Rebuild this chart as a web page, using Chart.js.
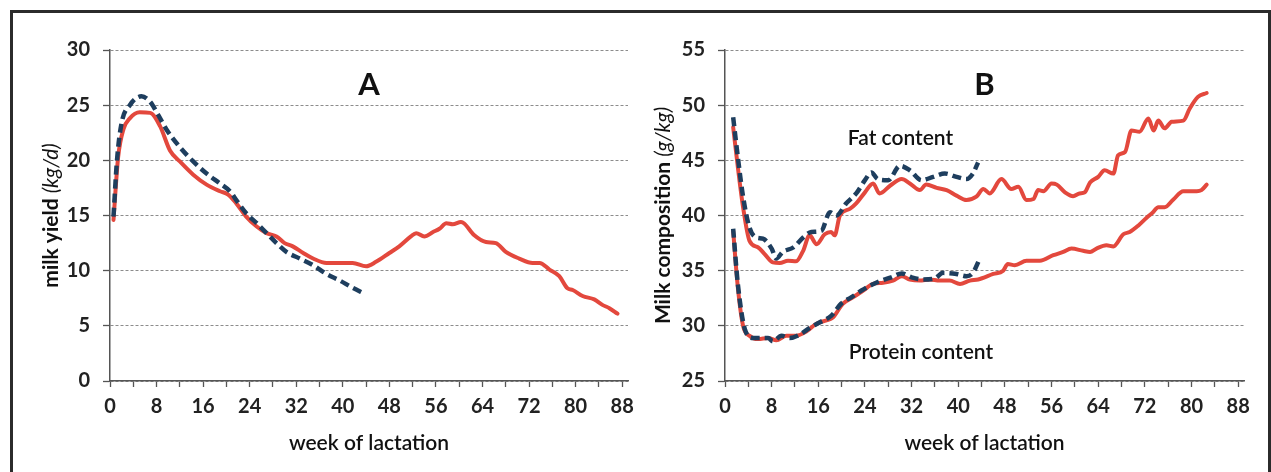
<!DOCTYPE html>
<html>
<head>
<meta charset="utf-8">
<script src="https://cdn.jsdelivr.net/npm/chart.js@4.4.0/dist/chart.umd.min.js"></script>
<style>
  html, body { margin: 0; padding: 0; background: #fff; overflow: hidden; }
  body { width: 1271px; height: 472px; position: relative; }
  #frame { position: absolute; left: 10px; top: 10px; width: 1261px; height: 600px; box-sizing: border-box; border: 3px solid #2b2b2b; }
  #chartA { position: absolute; left: 0; top: 0; }
  #chartB { position: absolute; left: 631px; top: 0; }
</style>
</head>
<body>
<div id="frame"></div>
<canvas id="chartA" width="660" height="472"></canvas>
<canvas id="chartB" width="640" height="472"></canvas>
<script>
// tick labels
const weekTicks = [0, 4, 8, 12, 16, 20, 24, 28, 32, 36, 40, 44, 48, 52, 56, 60, 64, 68, 72, 76, 80, 84, 88];
const yieldTicks = [0, 5, 10, 15, 20, 25, 30];
const compTicks = [25, 30, 35, 40, 45, 50, 55];

// Panel A - milk yield (kg/d)
const yieldRedWeeks = [0.6, 1.4, 2.3, 3.4, 5.1, 6.9, 8.6, 10.3, 12, 14.3, 16.6, 18.9, 20.3, 21.7, 23.4, 25.2, 26.9, 28.6, 30, 31.4, 33.2, 34.9, 37.2, 39.5, 41.7, 44, 45.7, 48, 49.7, 51.7, 52.6, 54, 55.5, 56.6, 57.8, 58.9, 60.3, 60.8, 62.6, 64.6, 66.3, 68, 70.3, 72.6, 73.8, 75.5, 77.2, 78.6, 79.5, 81.2, 83.2, 84.6, 85.8, 87.2];
const yieldRed = [14.6, 20.3, 22.8, 23.8, 24.35, 24.3, 23.1, 20.9, 19.9, 18.7, 17.8, 17.2, 16.9, 16.1, 14.9, 14.0, 13.4, 13.1, 12.5, 12.2, 11.6, 11.1, 10.7, 10.7, 10.7, 10.4, 10.8, 11.6, 12.2, 13.1, 13.4, 13.1, 13.5, 13.8, 14.3, 14.2, 14.4, 14.3, 13.2, 12.6, 12.5, 11.7, 11.1, 10.7, 10.7, 10.1, 9.5, 8.4, 8.25, 7.7, 7.4, 6.9, 6.6, 6.1];
const yieldBlueWeeks = [0.6, 1.2, 2, 3.4, 5.4, 6.9, 8.3, 9.7, 12, 14.3, 16.6, 18.9, 20.6, 21.7, 23.4, 25.2, 26.9, 28.6, 30.3, 32.6, 34.9, 37.2, 39.5, 41.5, 43.8];
const yieldBlue = [14.9, 20.0, 23.4, 25.0, 25.8, 25.3, 24.1, 22.8, 21.2, 19.9, 18.8, 17.9, 17.2, 16.4, 15.2, 14.3, 13.4, 12.5, 11.7, 11.1, 10.5, 9.7, 9.1, 8.5, 7.9];

// Panel B - milk composition (g/kg)
const fatRedWeeks = [1.4, 2.2, 3.1, 4.2, 5.7, 6.8, 8.2, 9.4, 10.8, 12.2, 13.4, 14.5, 15.7, 17.1, 18.2, 18.8, 19.7, 21.4, 22.5, 24, 25.4, 26.5, 28.3, 30.3, 31.7, 33.4, 34.5, 36.3, 38, 39.7, 41.4, 43.1, 44.3, 45.4, 47.4, 49.1, 50.3, 51.7, 52.9, 53.7, 54.6, 56, 56.9, 58.3, 59.7, 60.8, 61.7, 62.6, 64, 65.1, 66.6, 67.4, 68.6, 69.7, 71.1, 72.6, 73.5, 74.3, 75.4, 76.6, 78.6, 79.7, 81.1, 82.6];
const fatRed = [48.0, 44.4, 40.75, 37.7, 37.1, 36.5, 35.75, 35.7, 35.9, 35.85, 36.8, 38.2, 37.4, 38.3, 38.5, 38.2, 40.0, 40.6, 41.1, 42.1, 42.9, 42.0, 42.7, 43.3, 42.9, 42.3, 42.8, 42.5, 42.3, 41.8, 41.4, 41.7, 42.4, 42.0, 43.3, 42.4, 42.6, 41.4, 41.5, 42.3, 42.2, 42.9, 42.8, 42.1, 41.75, 42.0, 42.1, 43.0, 43.5, 44.1, 43.8, 45.45, 45.75, 47.7, 47.6, 48.8, 47.7, 48.6, 47.9, 48.5, 48.6, 49.7, 50.75, 51.1];
const fatBlueWeeks = [1.4, 2.2, 3.1, 4.2, 5.4, 6.5, 8, 8.8, 9.9, 11.7, 13.4, 14.8, 16.5, 18, 19.1, 20.8, 22.5, 24, 25.1, 26.2, 28, 30, 31.7, 33.7, 35.7, 37.7, 39.7, 41.4, 42.5, 43.4];
const fatBlue = [48.9, 45.3, 41.7, 38.9, 38.0, 37.9, 37.0, 36.1, 36.7, 37.1, 38.0, 38.5, 38.6, 40.3, 40.0, 41.1, 42.0, 43.2, 43.9, 43.3, 43.2, 44.5, 44.1, 43.2, 43.5, 43.8, 43.5, 43.3, 43.8, 44.8];
const protRedWeeks = [1.4, 2.2, 3.1, 4.2, 5.7, 7.4, 8.8, 10.5, 12.2, 14, 15.7, 17.4, 18.5, 20.2, 22, 23.7, 25.4, 27.1, 28.8, 30.3, 31.7, 33.4, 35.1, 36.8, 38.5, 40.3, 42, 43.4, 46, 47.7, 48.5, 49.7, 51.7, 54, 56.3, 58, 59.4, 61.4, 62.6, 63.7, 65.4, 66.6, 68.3, 69.4, 70.9, 72.3, 73.4, 74.3, 75.4, 76.8, 78.6, 80.9, 81.7, 82.6];
const protRed = [38.6, 33.5, 30.0, 29.1, 28.8, 28.9, 28.7, 29.1, 29.1, 29.5, 30.2, 30.5, 30.75, 32.0, 32.6, 33.2, 33.8, 33.9, 34.1, 34.5, 34.2, 34.1, 34.2, 34.1, 34.1, 33.8, 34.1, 34.2, 34.7, 35.0, 35.6, 35.5, 35.9, 35.9, 36.4, 36.7, 37.0, 36.8, 36.7, 37.0, 37.3, 37.2, 38.3, 38.5, 39.1, 39.8, 40.3, 40.75, 40.75, 41.4, 42.2, 42.2, 42.3, 42.8];
const protBlueWeeks = [1.4, 2.2, 3.4, 4.8, 6.2, 7.4, 8.2, 9.7, 11.1, 12.8, 14.5, 16.2, 18.2, 19.9, 21.7, 23.4, 25.1, 26.8, 28.5, 30.3, 32, 34, 36, 37.4, 39.7, 41.4, 42.5, 43.7];
const protBlue = [38.8, 33.8, 29.7, 28.9, 28.9, 28.9, 28.6, 29.1, 28.9, 29.2, 29.8, 30.3, 30.9, 32.0, 32.6, 33.2, 33.7, 34.1, 34.4, 34.75, 34.4, 34.2, 34.3, 34.8, 34.7, 34.5, 34.8, 36.1];

const red = '#e3483d';
const navy = '#1e3e5e';
const axisColor = '#555';
const tickFont = { family: 'Lato', size: 20, weight: 'bold' };

function pts(weeks, values) {
  return weeks.map((w, i) => ({ x: w, y: values[i] }));
}

function redLine(weeks, values) {
  return { data: pts(weeks, values), borderColor: red, borderWidth: 4, pointRadius: 0,
    borderCapStyle: 'round', borderJoinStyle: 'round', cubicInterpolationMode: 'monotone' };
}

function blueLine(weeks, values) {
  return { data: pts(weeks, values), borderColor: navy, borderWidth: 4.5, pointRadius: 0,
    borderDash: [9, 5], cubicInterpolationMode: 'monotone' };
}

// titles, panel letter and curve labels
const panelText = {
  id: 'panelText',
  afterDraw(chart, args, o) {
    const { ctx, chartArea: a, scales } = chart;
    const cx = (a.left + a.right) / 2;
    ctx.save();
    ctx.fillStyle = '#111';
    ctx.textAlign = 'center';
    ctx.textBaseline = 'middle';
    ctx.font = 'bold 31px Lato';
    ctx.fillText(o.letter, cx, a.top + 35);
    ctx.font = '600 21px Lato';
    ctx.fillText('week of lactation', cx, a.bottom + 62);
    (o.notes || []).forEach(n => {
      ctx.font = '600 21px Lato';
      ctx.fillText(n.text, scales.x.getPixelForValue(n.week), scales.y.getPixelForValue(n.value));
    });
    // rotated y title, bold part + italic part
    ctx.translate(o.yTitleX, (a.top + a.bottom) / 2);
    ctx.rotate(-Math.PI / 2);
    ctx.textAlign = 'left';
    const boldFont = 'bold 21px Lato', italFont = 'italic 21px Lato';
    ctx.font = boldFont;
    const w1 = ctx.measureText(o.yTitle[0]).width;
    ctx.font = italFont;
    const w2 = ctx.measureText(o.yTitle[1]).width;
    let x0 = -(w1 + w2) / 2;
    ctx.font = boldFont;
    ctx.fillText(o.yTitle[0], x0, 0);
    ctx.font = italFont;
    ctx.fillText(o.yTitle[1], x0 + w1, 0);
    ctx.restore();
  }
};

function makeChart(id, cfg) {
  return new Chart(document.getElementById(id), {
    type: 'line',
    data: { datasets: cfg.datasets },
    options: {
      responsive: false,
      animation: false,
      layout: { padding: { top: 50, right: cfg.right, left: 0, bottom: 0 } },
      plugins: {
        legend: { display: false },
        tooltip: { enabled: false },
        panelText: cfg.text
      },
      scales: {
        x: {
          type: 'linear', min: 0, max: 89,
          afterBuildTicks: s => { s.ticks = weekTicks.map(v => ({ value: v })); },
          afterFit: s => { s.height = 91; },
          grid: { drawOnChartArea: false, tickLength: 6, tickColor: axisColor, tickWidth: 1.3 },
          border: { color: axisColor, width: 1.5 },
          ticks: { padding: 8, color: '#222', font: tickFont, maxRotation: 0, autoSkip: false,
            callback: v => (v % 8 === 0 ? v : '') }
        },
        y: {
          min: cfg.yTicks[0], max: cfg.yTicks[cfg.yTicks.length - 1],
          afterBuildTicks: s => { s.ticks = cfg.yTicks.map(v => ({ value: v })); },
          afterFit: s => { s.width = cfg.yWidth; },
          grid: { color: '#8c8c8c', lineWidth: 1, tickLength: 7, tickColor: axisColor, tickWidth: 1.3 },
          border: { color: axisColor, width: 1.5, dash: [3, 2] },
          ticks: { padding: 13, color: '#222', font: tickFont }
        }
      }
    },
    plugins: [panelText]
  });
}

makeChart('chartA', {
  yTicks: yieldTicks, yWidth: 110, right: 32,
  datasets: [blueLine(yieldBlueWeeks, yieldBlue), redLine(yieldRedWeeks, yieldRed)],
  text: { letter: 'A', yTitleX: 51, yTitle: ['milk yield ', '(kg/d)'] }
});

makeChart('chartB', {
  yTicks: compTicks, yWidth: 94, right: 27,
  datasets: [blueLine(fatBlueWeeks, fatBlue), blueLine(protBlueWeeks, protBlue),
    redLine(fatRedWeeks, fatRed), redLine(protRedWeeks, protRed)],
  text: { letter: 'B', yTitleX: 32, yTitle: ['Milk composition ', '(g/kg)'],
    notes: [{ text: 'Fat content', week: 30.1, value: 47.0 }, { text: 'Protein content', week: 33.6, value: 27.6 }] }
});
</script>
</body>
</html>
